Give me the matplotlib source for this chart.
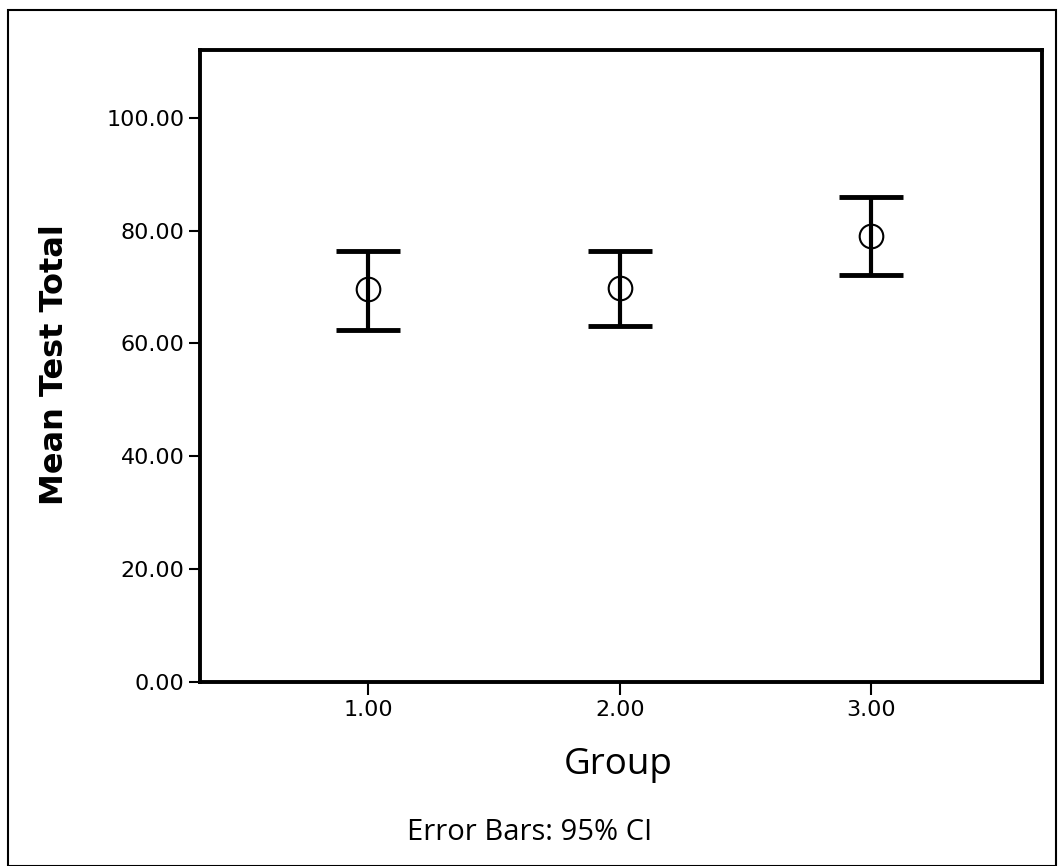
import matplotlib.pyplot as plt
from matplotlib.patches import Rectangle
import numpy as np

groups = [1.0, 2.0, 3.0]
means = [69.6, 69.9, 79.1]
upper = [76.3, 76.3, 86.0]
lower = [62.3, 63.0, 72.2]

tick_labels_x = ["1.00", "2.00", "3.00"]
y_ticks = [0, 20, 40, 60, 80, 100]

means = np.array(means)
err = [means - np.array(lower), np.array(upper) - means]

W, H = 1062, 866
fig = plt.figure(figsize=(W / 100, H / 100), dpi=100)
fig.patches.append(Rectangle((0.008, 0.0), 0.986, 0.989, transform=fig.transFigure,
                             fill=False, edgecolor="black", linewidth=1.5))

ax = fig.add_axes([0.1883, 0.2125, 0.7929, 0.7298])
ax.errorbar(groups, means, yerr=err, fmt="none", ecolor="black",
            elinewidth=3, capsize=23, capthick=3.5)
ax.plot(groups, means, "o", markersize=17, markerfacecolor="none",
        markeredgecolor="black", markeredgewidth=1.5)

ax.set_xlim(0.33, 3.68)
ax.set_ylim(0, 112)
ax.set_xticks(groups)
ax.set_xticklabels(tick_labels_x)
ax.set_yticks(y_ticks)
ax.set_yticklabels([f"{v:.2f}" for v in y_ticks])
ax.tick_params(axis="y", direction="out", length=8, width=1.5, labelsize=16, pad=3)
ax.tick_params(axis="x", direction="out", length=9, width=1.5, labelsize=16, pad=4)
for s in ax.spines.values():
    s.set_linewidth(2.8)

fig.text(55 / W, 1 - 365 / H, "Mean Test Total", rotation=90, ha="center", va="center",
         fontsize=23, fontweight="bold")
fig.text(618 / W, 1 - 765 / H, "Group", ha="center", va="center",
         fontsize=26.5, family="Open Sans")
fig.text(530 / W, 1 - 833 / H, "Error Bars: 95% CI", ha="center", va="center",
         fontsize=21, family="Open Sans")

fig.savefig("out.png", dpi=100)
